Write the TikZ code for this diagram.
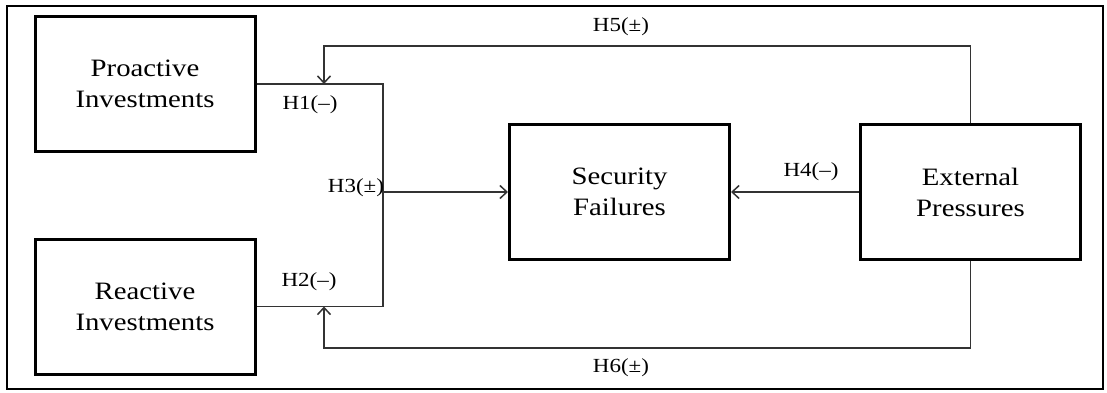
\documentclass[tikz,border=0pt]{standalone}
\usepackage{fontspec}
\setmainfont{Liberation Serif}[FakeStretch=1.15]
\usetikzlibrary{arrows.meta}
\newcommand{\hyp}[3]{\node[lbl] (#1) at (#2) {#3};}

\begin{document}
\begin{tikzpicture}[x=1pt,y=1pt,>={Straight Barb[length=7pt,width=13pt]},
  box/.style={draw,line width=3pt,minimum width=220pt,minimum height=135pt,align=center,
    font=\fontsize{25}{31}\selectfont},
  conn/.style={line width=1.5pt,draw=black!80},
  lbl/.style={font=\fontsize{20}{22}\selectfont,inner sep=0pt}]
  \useasboundingbox (0,0) rectangle (1107,392);
  \draw[line width=2pt] (7,3) rectangle (1103,386);
  \node[box] (pro) at (145,308) {Proactive\\Investments};
  \node[box] (rea) at (145,85.5) {Reactive\\Investments};
  \node[box] (fail) at (619.5,200) {Security\\Failures};
  \node[box] (ext) at (970.5,200) {External\\Pressures};
  \coordinate (bar) at (383,200);
  \coordinate (h1) at (324,308);
  \coordinate (h2) at (324,85.5);
  \draw[conn] (pro.east) -| (bar) |- (rea.east);
  \draw[conn,->] (bar) -- (fail.west);
  \draw[conn,->] (ext.west) -- (fail.east);
  \draw[conn,->] (ext.north) |- (621,346) -| (h1);
  \draw[conn,->] (ext.south) |- (621,44) -| (h2);
  \hyp{l1}{310,287}{H1(–)}
  \hyp{l2}{309,110}{H2(–)}
  \hyp{l3}{356,204}{H3(±)}
  \hyp{l4}{811,220}{H4(–)}
  \hyp{l5}{621,365}{H5(±)}
  \hyp{l6}{621,24}{H6(±)}
\end{tikzpicture}
\end{document}
